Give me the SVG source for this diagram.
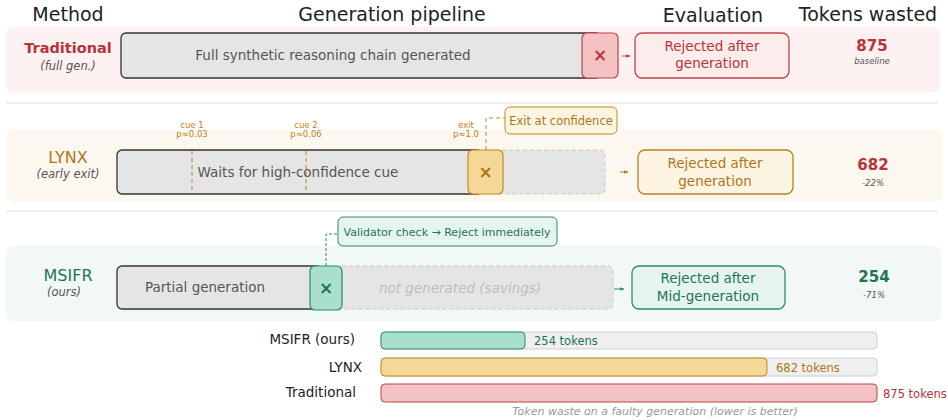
<svg xmlns="http://www.w3.org/2000/svg" width="948" height="420" viewBox="0 0 948 420">
  <defs>
    <style>
      text { font-family: "DejaVu Sans", "Noto Sans", sans-serif; }
      .hdr { font-size: 19px; fill: #222; text-anchor: middle; }
      .sub { font-size: 11.5px; fill: #555; font-style: italic; text-anchor: middle; }
      .tiny { font-size: 8.5px; font-style: italic; fill: #555; text-anchor: middle; }
      .barTxt { font-size: 13.5px; fill: #555; text-anchor: middle; }
      .cue { font-size: 8.5px; fill: #c0801a; text-anchor: middle; }
      .evalTxt { font-size: 13.5px; text-anchor: middle; }
      .num { font-size: 15px; font-weight: bold; text-anchor: middle; }
      .cross { font-size: 17px; font-weight: bold; text-anchor: middle; }
      .gen { fill: #e5e5e5; stroke: #333; stroke-width: 1.3; }
      .ghost { fill: #e5e5e5; stroke: #c8c8c8; stroke-width: 1; stroke-dasharray: 4 3; }
      .sep { stroke: #dddddd; stroke-width: 1.2; }
      .lbl { font-size: 13.5px; fill: #222; text-anchor: end; }
      .track { fill: #efefef; stroke: #cfcfcf; stroke-width: 1; }
      .tok { font-size: 11.5px; }
      .red { fill: #b8333a; }
      .amb { fill: #b0761a; }
      .grn { fill: #1e7454; }
    </style>
    <marker id="arrR" viewBox="0 0 10 10" refX="9" refY="5" markerWidth="5" markerHeight="5" orient="auto">
      <path d="M0,1 L10,5 L0,9 Z" fill="#c0444a"/>
    </marker>
    <marker id="arrA" viewBox="0 0 10 10" refX="9" refY="5" markerWidth="5" markerHeight="5" orient="auto">
      <path d="M0,1 L10,5 L0,9 Z" fill="#b8801e"/>
    </marker>
    <marker id="arrG" viewBox="0 0 10 10" refX="9" refY="5" markerWidth="5" markerHeight="5" orient="auto">
      <path d="M0,1 L10,5 L0,9 Z" fill="#2e8b6a"/>
    </marker>
  </defs>

  <rect width="948" height="420" fill="#ffffff"/>

  <!-- column headers -->
  <g id="headers">
    <text class="hdr" x="68" y="21">Method</text>
    <text class="hdr" x="392" y="21">Generation pipeline</text>
    <text class="hdr" x="713" y="22">Evaluation</text>
    <text class="hdr" x="868" y="21">Tokens wasted</text>
  </g>

  <!-- row backgrounds and separators -->
  <g id="rows">
    <rect x="6" y="27" width="934" height="65" rx="7" fill="#fdf1f1"/>
    <line class="sep" x1="6" y1="103" x2="938" y2="103"/>
    <rect x="6" y="130" width="937" height="72" rx="7" fill="#fdf8ef"/>
    <line class="sep" x1="6" y1="211" x2="938" y2="211"/>
    <rect x="6" y="246" width="935" height="75" rx="7" fill="#f2f8f6"/>
  </g>

  <!-- Traditional row -->
  <g id="traditional-method">
    <text x="68" y="53" class="red" style="font-size:14.5px;font-weight:bold;text-anchor:middle">Traditional</text>
    <text class="sub" x="68" y="70">(full gen.)</text>
  </g>
  <g id="traditional-pipeline">
    <rect class="gen" x="121" y="33" width="480" height="45" rx="5"/>
    <text class="barTxt" x="333" y="60">Full synthetic reasoning chain generated</text>
    <rect x="582" y="33" width="36" height="45" rx="5" fill="#f4c2c2" stroke="#c0444a" stroke-width="1.2"/>
    <text x="600" y="61" class="cross red">×</text>
  </g>
  <g id="traditional-eval">
    <rect x="635" y="33" width="154" height="45" rx="7" fill="#fdecec" stroke="#c0444a" stroke-width="1.3"/>
    <text class="evalTxt red" x="712" y="51">Rejected after</text>
    <text class="evalTxt red" x="712" y="68">generation</text>
  </g>
  <g id="traditional-tokens">
    <text class="num red" x="872" y="51">875</text>
    <text class="tiny" x="872" y="64">baseline</text>
  </g>

  <!-- LYNX row -->
  <g id="lynx-method">
    <text x="68" y="163" class="amb" style="font-size:16px;text-anchor:middle">LYNX</text>
    <text class="sub" x="68" y="178">(early exit)</text>
  </g>
  <g id="lynx-pipeline">
    <rect class="ghost" x="490" y="150" width="115" height="44" rx="5"/>
    <rect class="gen" x="117" y="150" width="365" height="44" rx="5"/>
    <line x1="192" y1="151" x2="192" y2="193" stroke="#c0801a" stroke-width="1" stroke-dasharray="4 3"/>
    <line x1="306" y1="151" x2="306" y2="193" stroke="#c0801a" stroke-width="1" stroke-dasharray="4 3"/>
    <text class="barTxt" x="298" y="177">Waits for high-confidence cue</text>
    <rect x="468" y="150" width="35" height="44" rx="5" fill="#f5d898" stroke="#c28a1e" stroke-width="1.2"/>
    <text x="485.5" y="178" class="cross amb">×</text>
    <text class="cue" x="192" y="128">cue 1</text>
    <text class="cue" x="192" y="137">p≈0.03</text>
    <text class="cue" x="306" y="128">cue 2</text>
    <text class="cue" x="306" y="137">p≈0.06</text>
    <text class="cue" x="466" y="128">exit</text>
    <text class="cue" x="466" y="137">p≈1.0</text>
  </g>
  <g id="lynx-callout">
    <rect x="505" y="107" width="112" height="27" rx="5" fill="#fdf5e2" stroke="#c28a1e" stroke-width="1"/>
    <text x="561" y="125" class="amb" style="font-size:11.5px;text-anchor:middle">Exit at confidence</text>
  </g>
  <g id="lynx-eval">
    <rect x="638" y="150" width="155" height="44" rx="7" fill="#fdf5e2" stroke="#b8801e" stroke-width="1.3"/>
    <text class="evalTxt amb" x="715" y="168">Rejected after</text>
    <text class="evalTxt amb" x="715" y="186">generation</text>
  </g>
  <g id="lynx-tokens">
    <text class="num red" x="873" y="170">682</text>
    <text class="tiny" x="873" y="186">-22%</text>
  </g>

  <!-- MSIFR row -->
  <g id="msifr-method">
    <text x="68" y="281" class="grn" style="font-size:16px;text-anchor:middle">MSIFR</text>
    <text class="sub" x="64" y="296">(ours)</text>
  </g>
  <g id="msifr-pipeline">
    <rect class="ghost" x="330" y="266" width="283" height="43" rx="5"/>
    <rect class="gen" x="117" y="266" width="205" height="43" rx="5"/>
    <text class="barTxt" x="205" y="292">Partial generation</text>
    <rect x="310" y="266" width="32" height="44" rx="5" fill="#a8dfcf" stroke="#2e8b6a" stroke-width="1.2"/>
    <text x="326" y="294" class="cross grn">×</text>
    <text x="460" y="293" style="font-size:13.5px;font-style:italic;fill:#bdbdbd;text-anchor:middle">not generated (savings)</text>
  </g>
  <g id="msifr-callout">
    <rect x="338" y="217" width="219" height="29" rx="5" fill="#e6f4ef" stroke="#2e8b6a" stroke-width="1"/>
    <text x="447" y="236" class="grn" style="font-size:11px;text-anchor:middle">Validator check → Reject immediately</text>
  </g>
  <g id="msifr-eval">
    <rect x="632" y="266" width="153" height="43" rx="7" fill="#e6f4ef" stroke="#2e8b6a" stroke-width="1.3"/>
    <text class="evalTxt grn" x="708" y="283">Rejected after</text>
    <text class="evalTxt grn" x="708" y="301">Mid-generation</text>
  </g>
  <g id="msifr-tokens">
    <text class="num grn" x="874" y="282">254</text>
    <text class="tiny" x="874" y="298">-71%</text>
  </g>

  <!-- connectors -->
  <g id="connectors" fill="none" stroke-width="1">
    <line x1="622" y1="56" x2="630" y2="56" stroke="#c0444a" marker-end="url(#arrR)"/>
    <line x1="620" y1="172" x2="628" y2="172" stroke="#b8801e" marker-end="url(#arrA)"/>
    <line x1="614" y1="289" x2="624" y2="289" stroke="#2e8b6a" marker-end="url(#arrG)"/>
    <path d="M486,150 V118 H505" stroke="#c28a1e" stroke-dasharray="4 3"/>
    <path d="M326,266 V234 H338" stroke="#2e8b6a" stroke-dasharray="3 2"/>
  </g>

  <!-- token bar chart -->
  <g id="chart-msifr">
    <text class="lbl" x="355" y="344">MSIFR (ours)</text>
    <rect class="track" x="381" y="332" width="496" height="17" rx="4"/>
    <rect x="381" y="332" width="144" height="17" rx="4" fill="#a8dfcf" stroke="#2e8b6a" stroke-width="1"/>
    <text class="tok grn" x="534" y="345">254 tokens</text>
  </g>
  <g id="chart-lynx">
    <text class="lbl" x="362" y="372">LYNX</text>
    <rect class="track" x="381" y="358" width="496" height="18" rx="4"/>
    <rect x="381" y="358" width="386" height="18" rx="4" fill="#f5d898" stroke="#c28a1e" stroke-width="1"/>
    <text class="tok amb" x="776" y="372">682 tokens</text>
  </g>
  <g id="chart-traditional">
    <text class="lbl" x="356" y="397">Traditional</text>
    <rect x="381" y="384" width="496" height="18" rx="4" fill="#f4c2c2" stroke="#c0444a" stroke-width="1"/>
    <text class="tok red" x="883" y="398">875 tokens</text>
  </g>
  <text x="655" y="415" style="font-size:11px;font-style:italic;fill:#999;text-anchor:middle">Token waste on a faulty generation (lower is better)</text>
</svg>
